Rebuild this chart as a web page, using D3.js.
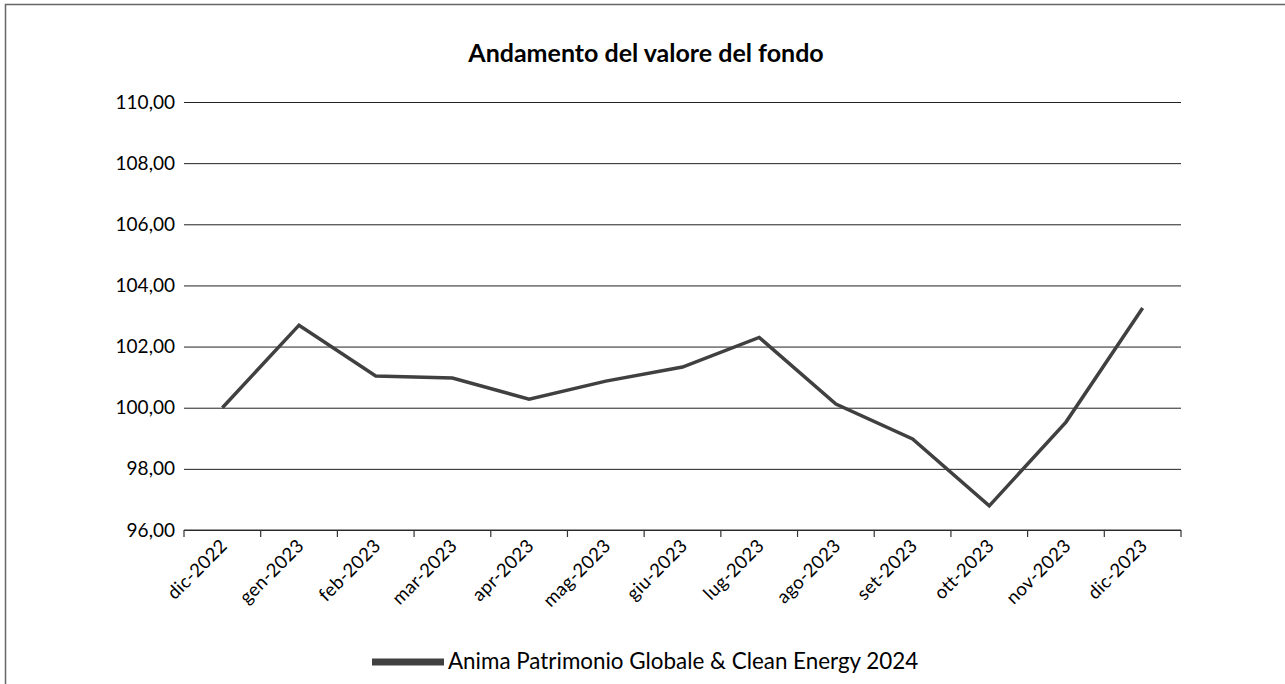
<!DOCTYPE html>
<html>
<head>
<meta charset="utf-8">
<script src="https://cdn.jsdelivr.net/npm/d3@7"></script>
<style>
  body { margin: 0; background: #fff; }
  svg { font-family: Lato, "Open Sans", sans-serif; }
</style>
</head>
<body>
<div id="chart"></div>
<script>
// data
var months = ["dic-2022", "gen-2023", "feb-2023", "mar-2023", "apr-2023", "mag-2023", "giu-2023",
  "lug-2023", "ago-2023", "set-2023", "ott-2023", "nov-2023", "dic-2023"];
var values = [100.0, 102.7, 101.04, 100.97, 100.28, 100.87, 101.33, 102.3, 100.12, 98.98, 96.79, 99.53, 103.26];
var yTicks = [96, 98, 100, 102, 104, 106, 108, 110];
var seriesName = "Anima Patrimonio Globale & Clean Energy 2024";

var width = 1285, height = 684;
var plotLeft = 184, plotRight = 1181, plotTop = 102, plotBottom = 530;

var svg = d3.select("#chart")
  .append("svg")
  .attr("width", width)
  .attr("height", height);

// outer frame
svg.append("rect")
  .attr("x", 5.5).attr("y", 4.5)
  .attr("width", 1300).attr("height", 700)
  .attr("fill", "none")
  .attr("stroke", "#666")
  .attr("stroke-width", 1.5);

svg.append("text")
  .attr("x", 646).attr("y", 62)
  .attr("text-anchor", "middle")
  .attr("font-size", 25)
  .attr("font-weight", "bold")
  .attr("fill", "#000")
  .text("Andamento del valore del fondo");

var x = d3.scaleBand().domain(months).range([plotLeft, plotRight]);
var y = d3.scaleLinear().domain([96, 110]).range([plotBottom, plotTop]);

var fmt = function(d) { return d3.format(".2f")(d).replace(".", ","); };

// gridlines + y labels
var yAxis = svg.append("g")
  .attr("transform", "translate(" + plotLeft + ",0)")
  .call(d3.axisLeft(y).tickValues(yTicks).tickFormat(fmt).tickSize(-(plotRight - plotLeft)).tickPadding(9));
yAxis.select(".domain").remove();
yAxis.selectAll(".tick line").attr("stroke", "#222").attr("stroke-width", 1);
yAxis.selectAll(".tick text")
  .attr("font-size", 19)
  .attr("fill", "#000")
  .attr("font-family", "Lato, sans-serif");

// x axis with boundary ticks
var xAxis = svg.append("g").attr("transform", "translate(0," + plotBottom + ")");
xAxis.append("line")
  .attr("x1", plotLeft).attr("x2", plotRight)
  .attr("stroke", "#333").attr("stroke-width", 1.2);
var bounds = months.map(function(m) { return x(m); }).concat([plotRight]);
xAxis.selectAll(".bt")
  .data(bounds)
  .enter().append("line")
  .attr("x1", function(d) { return d; })
  .attr("x2", function(d) { return d; })
  .attr("y1", 0).attr("y2", 7)
  .attr("stroke", "#333").attr("stroke-width", 1.2);
xAxis.selectAll(".lbl")
  .data(months)
  .enter().append("text")
  .attr("transform", function(d) {
    return "translate(" + (x(d) + x.bandwidth() / 2 + 6) + ",17) rotate(-45)";
  })
  .attr("text-anchor", "end")
  .attr("font-size", 18.5)
  .attr("letter-spacing", 0.3)
  .attr("fill", "#000")
  .text(function(d) { return d; });

// series line
var line = d3.line()
  .x(function(d, i) { return x(months[i]) + x.bandwidth() / 2; })
  .y(function(d) { return y(d); });

svg.append("path")
  .datum(values)
  .attr("d", line)
  .attr("fill", "none")
  .attr("stroke", "#404040")
  .attr("stroke-width", 3.5)
  .attr("stroke-linejoin", "miter");

// legend
var legend = svg.append("g").attr("transform", "translate(372,662)");
legend.append("line")
  .attr("x1", 0).attr("x2", 72)
  .attr("stroke", "#404040")
  .attr("stroke-width", 7);
legend.append("text")
  .attr("x", 76).attr("y", 7)
  .attr("font-size", 22.4)
  .attr("fill", "#000")
  .text(seriesName);
</script>
</body>
</html>
